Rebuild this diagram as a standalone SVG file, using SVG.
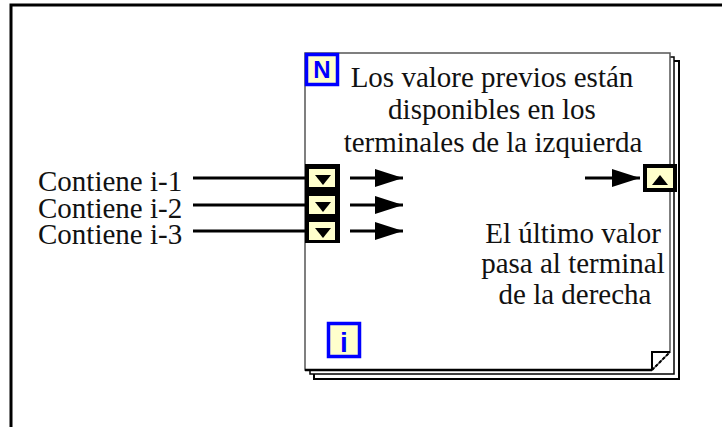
<svg xmlns="http://www.w3.org/2000/svg" width="722" height="427" viewBox="0 0 722 427">
<defs>
<style>
.lbl{font-family:"Liberation Serif","Times New Roman",serif;font-size:29px;fill:#111}
.wire{stroke:#000;stroke-width:3;fill:none}
.sr{fill:#000}
.sry{fill:#ffffcc}
.ico{fill:#ffffcc;stroke:#0000ff;stroke-width:3.5}
.icot{font-family:"Liberation Sans",Arial,sans-serif;font-weight:bold;fill:#0000ff}
</style>
<marker id="ah" markerUnits="userSpaceOnUse" markerWidth="30" markerHeight="18" refX="28" refY="9" orient="auto">
<path d="M0,0 L28,9 L0,18 Z" fill="#000"/>
</marker>
</defs>
<rect x="0" y="0" width="722" height="427" fill="#fff"/>
<path d="M11,440 V5 H730" fill="none" stroke="#000" stroke-width="3"/>

<g id="loop">
<rect x="314" y="61" width="365" height="318" fill="#fff" stroke="#000" stroke-width="2"/>
<rect x="310" y="57" width="364" height="317" fill="#fff" stroke="#000" stroke-width="1.5"/>
<path d="M305,53 H670 V352 L652,370 H305 Z" fill="#fff" stroke="#555" stroke-width="1.5"/>
<path d="M305,370 H652" stroke="#000" stroke-width="2.5"/>
<path d="M652,370 V352 H670" fill="none" stroke="#000" stroke-width="2"/>
<path d="M652,370 L670,352" stroke="#000" stroke-width="2" stroke-dasharray="3,2"/>
</g>

<g id="n-icon">
<rect class="ico" x="306.5" y="54.5" width="31" height="30"/>
<text class="icot" x="322" y="78" font-size="24" text-anchor="middle">N</text>
</g>

<g id="i-icon">
<rect class="ico" x="328.5" y="323.5" width="31" height="33"/>
<text class="icot" x="344" y="352" font-size="28" text-anchor="middle">i</text>
</g>

<g id="text-top">
<text class="lbl" text-anchor="middle"><tspan x="492" y="87">Los valore previos están</tspan><tspan x="492" y="119">disponibles en los</tspan><tspan x="493" y="152">terminales de la izquierda</tspan></text>
</g>

<g id="text-right">
<text class="lbl" text-anchor="middle"><tspan x="573" y="243">El último valor</tspan><tspan x="573" y="273">pasa al terminal</tspan><tspan x="575" y="304">de la derecha</tspan></text>
</g>

<g id="labels">
<text class="lbl" x="38" y="191">Contiene i-1</text>
<text class="lbl" x="38" y="218">Contiene i-2</text>
<text class="lbl" x="38" y="244">Contiene i-3</text>
</g>

<g id="connectors">
<line class="wire" x1="193" y1="178" x2="305" y2="178"/>
<line class="wire" x1="193" y1="205" x2="305" y2="205"/>
<line class="wire" x1="193" y1="231" x2="305" y2="231"/>
<line class="wire" x1="350" y1="178" x2="403" y2="178" marker-end="url(#ah)"/>
<line class="wire" x1="350" y1="205" x2="403" y2="205" marker-end="url(#ah)"/>
<line class="wire" x1="350" y1="231" x2="403" y2="231" marker-end="url(#ah)"/>
<line class="wire" x1="585" y1="178" x2="640" y2="178" marker-end="url(#ah)"/>
</g>

<g id="sr-left">
<rect class="sr" x="305" y="164" width="35" height="79"/>
<rect class="sry" x="309" y="169" width="26" height="18"/>
<path d="M315,175 H331 L323,185 Z" fill="#000"/>
<rect class="sry" x="309" y="196" width="26" height="18"/>
<path d="M315,202 H331 L323,212 Z" fill="#000"/>
<rect class="sry" x="309" y="222" width="26" height="18"/>
<path d="M315,228 H331 L323,238 Z" fill="#000"/>
</g>

<g id="sr-right">
<rect class="sr" x="643" y="164" width="34" height="28"/>
<rect class="sry" x="647" y="168" width="26" height="20"/>
<path d="M652,185 H668 L660,175 Z" fill="#000"/>
</g>
</svg>
